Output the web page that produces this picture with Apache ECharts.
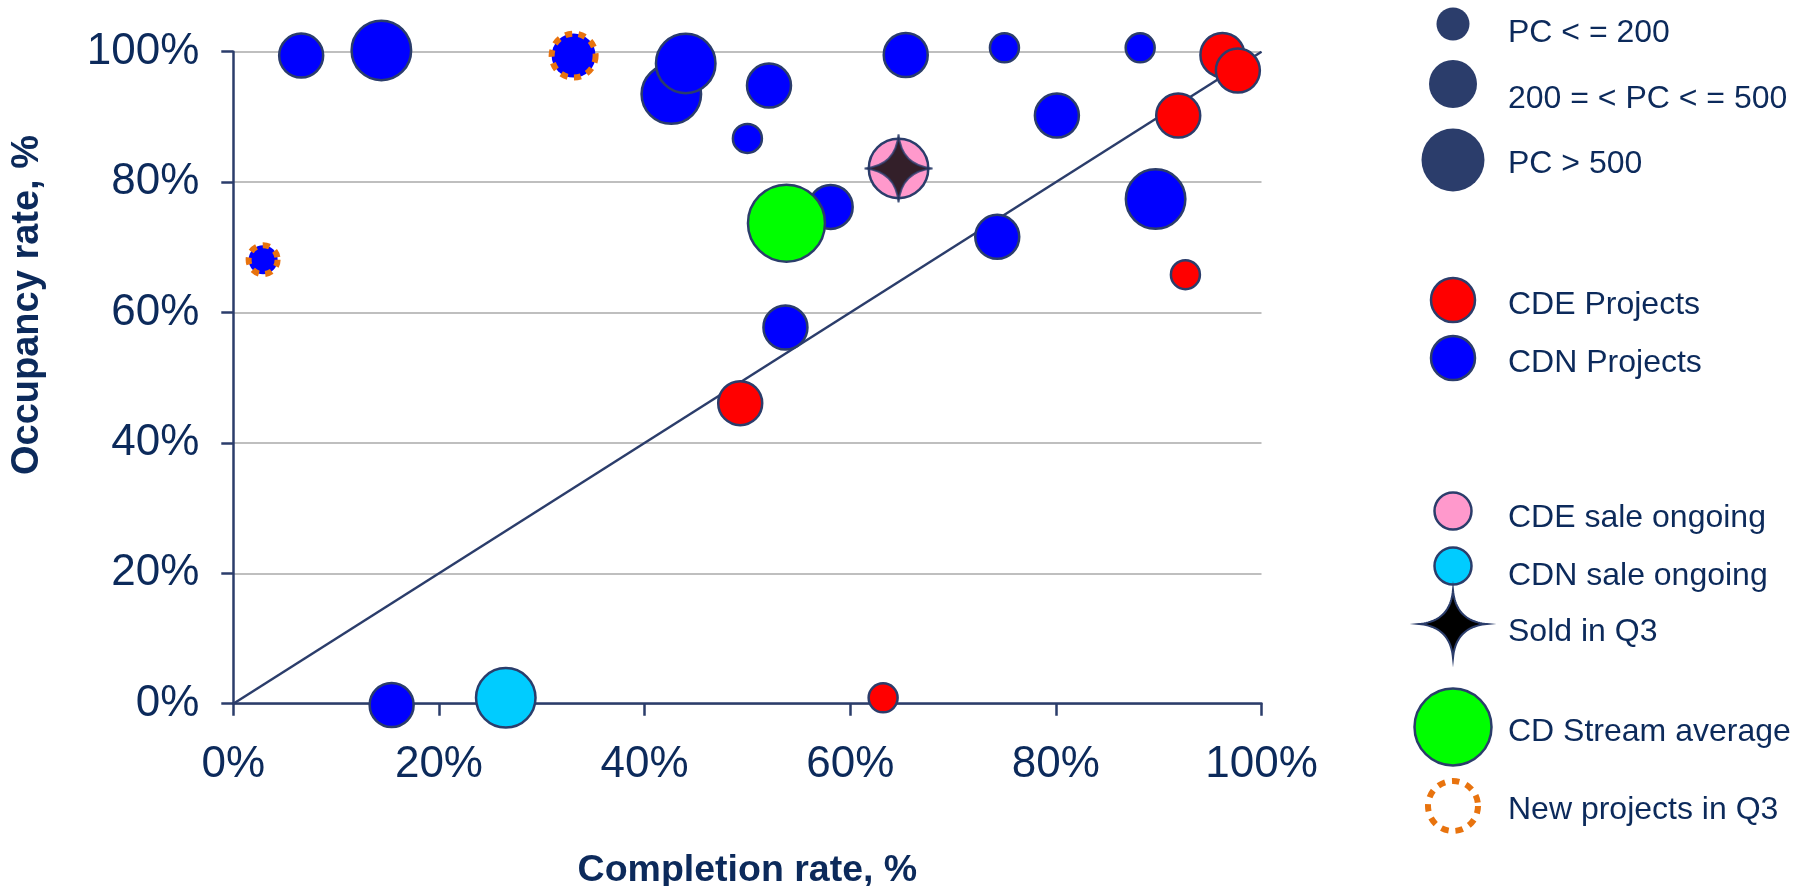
<!DOCTYPE html>
<html>
<head>
<meta charset="utf-8">
<script src="https://cdn.jsdelivr.net/npm/echarts@6/dist/echarts.min.js"></script>
<style>
html,body{margin:0;padding:0;background:#fff;}
#chart{width:1796px;height:886px;}
</style>
</head>
<body>
<div id="chart"></div>
<script>
// ---------- DATA ----------
const axisTicks = [0, 20, 40, 60, 80, 100];

// CDN projects (blue)
const cdnCompletion = [6.6, 14.4, 42.6, 44.0, 52.1, 50.0, 65.4, 58.1, 53.7, 75.0, 88.2, 80.1, 89.7, 74.3, 15.4, 2.9, 33.1];
const cdnOccupancy  = [99.4, 100.2, 93.5, 98.2, 94.8, 86.7, 99.5, 76.2, 57.7, 100.6, 100.6, 90.2, 77.4, 71.6, -0.2, 68.1, 99.4];
const cdnPcClass    = [2, 3, 3, 3, 2, 1, 2, 2, 2, 1, 1, 2, 3, 2, 2, 1, 2];   // 1: PC<=200, 2: 200-500, 3: >500
const cdnNewInQ3    = [0, 0, 0, 0, 0, 0, 0, 0, 0, 0, 0, 0, 0, 0, 0, 1, 1];

// CDE projects (red)
const cdeCompletion = [96.2, 97.7, 91.9, 92.6, 49.3, 63.2];
const cdeOccupancy  = [99.5, 97.1, 90.2, 65.8, 46.1, 0.9];
const cdePcClass    = [2, 2, 2, 1, 2, 1];

// Sale ongoing
const cdeSaleCompletion = [64.7];
const cdeSaleOccupancy  = [82.1];
const cdeSalePcClass    = [3];
const cdnSaleCompletion = [26.5];
const cdnSaleOccupancy  = [0.9];
const cdnSalePcClass    = [3];

// Sold in Q3
const soldCompletion = [64.7];
const soldOccupancy  = [82.1];

// CD Stream average
const avgCompletion = [53.8];
const avgOccupancy  = [73.7];

// Diagonal reference (completion = occupancy)
const diagonalCompletion = [0, 100];
const diagonalOccupancy  = [0, 100];

// Legend labels
const legendSizeLabels  = ['PC < = 200', '200 = < PC < = 500', 'PC > 500'];
const legendTypeLabels  = ['CDE Projects', 'CDN Projects'];
const legendSaleLabels  = ['CDE sale ongoing', 'CDN sale ongoing', 'Sold in Q3'];
const legendOtherLabels = ['CD Stream average', 'New projects in Q3'];

const xAxisTitle = 'Completion rate, %';
const yAxisTitle = 'Occupancy rate, %';

// ---------- STYLE ----------
const FONT = '"Liberation Sans", Arial, sans-serif';
const TEXT = '#0c2a5b';
const NAVY = '#2b3d6b';
const ORANGE = '#e8730e';
const C_RED = '#ff0000', C_BLUE = '#0000ff', C_PINK = '#ff99cc', C_CYAN = '#00ccff', C_GREEN = '#00ff00';
const SIZE = {1: 29, 2: 44, 3: 59.5};
const AVG_SIZE = 77;
const STAR_PATH = 'M50,0 Q54,46 100,50 Q54,54 50,100 Q46,54 0,50 Q46,46 50,0 Z';
const STAR = 'path://' + STAR_PATH;

function bubbles(xs, ys, pcs, flags) {
  return xs.map((x, i) => {
    const d = {value: [x, ys[i]], symbolSize: SIZE[pcs[i]]};
    if (flags && flags[i]) {
      d.itemStyle = {borderColor: ORANGE, borderWidth: 6, borderType: [7, 6.5]};
    }
    return d;
  });
}

const baseItem = (color) => ({color: color, borderColor: NAVY, borderWidth: 2.5, opacity: 1});

// star outline as polygon (quadratic curves sampled) for the legend
function starPoints(cx, cy, size) {
  const ctrl = [[54,46],[54,54],[46,54],[46,46]];
  const pts = [[50,0],[100,50],[50,100],[0,50]];
  const out = [];
  for (let k = 0; k < 4; k++) {
    const p0 = pts[k], p1 = ctrl[k], p2 = pts[(k + 1) % 4];
    for (let t = 0; t < 1; t += 0.04) {
      const a = (1 - t) * (1 - t), b = 2 * (1 - t) * t, c = t * t;
      const px = a * p0[0] + b * p1[0] + c * p2[0];
      const py = a * p0[1] + b * p1[1] + c * p2[1];
      out.push([cx - size / 2 + px * size / 100, cy - size / 2 + py * size / 100]);
    }
  }
  return out;
}

// ---------- LEGEND (graphic) ----------
const LX = 1453, TX = 1508;
const legendGraphics = [];
function legText(label, y) {
  legendGraphics.push({type: 'text', x: TX, y: y, style: {text: label, font: '32px ' + FONT, fill: TEXT, textAlign: 'left', textVerticalAlign: 'middle'}});
}
function legCircle(cy, d, fill, stroke, lw, dash) {
  const st = {fill: fill || 'none', lineWidth: lw || 0};
  if (stroke) st.stroke = stroke;
  if (dash) st.lineDash = dash;
  legendGraphics.push({type: 'circle', shape: {cx: LX, cy: cy, r: d / 2}, style: st});
}
// size legend
const sizeLegendY = [24, 84, 160], sizeLegendD = [33, 48, 63], sizeTextY = [33, 99, 164];
legendSizeLabels.forEach((l, i) => { legCircle(sizeLegendY[i], sizeLegendD[i], NAVY, null, 0); legText(l, sizeTextY[i]); });
// type legend
legCircle(300, 44, C_RED, NAVY, 2.5); legText(legendTypeLabels[0], 305);
legCircle(358, 44, C_BLUE, NAVY, 2.5); legText(legendTypeLabels[1], 363);
// sale legend
legCircle(511, 37, C_PINK, NAVY, 2.5); legText(legendSaleLabels[0], 518);
legCircle(566, 37, C_CYAN, NAVY, 2.5); legText(legendSaleLabels[1], 576);
legendGraphics.push({type: 'polygon', shape: {points: starPoints(LX, 624, 68)},
  style: {fill: '#000000', stroke: NAVY, lineWidth: 2}});
legText(legendSaleLabels[2], 632);
// other
legCircle(727, 77, C_GREEN, NAVY, 2.5); legText(legendOtherLabels[0], 732);
legCircle(806, 50, null, ORANGE, 6, [7.5, 7]); legText(legendOtherLabels[1], 810);

// y axis title
legendGraphics.push({type: 'text', x: 28, y: 305, rotation: Math.PI / 2,
  style: {text: yAxisTitle, font: 'bold 38px ' + FONT, fill: TEXT, textAlign: 'center', textVerticalAlign: 'middle'}});

// ---------- CHART ----------
const chart = echarts.init(document.getElementById('chart'), null, {renderer: 'canvas'});
const pctAxis = (isX) => ({
  type: 'value', min: axisTicks[0], max: axisTicks[axisTicks.length - 1], interval: axisTicks[1] - axisTicks[0],
  axisLine: {show: true, onZero: false, lineStyle: {color: NAVY, width: 2.5}},
  axisTick: {show: true, inside: false, length: 12, lineStyle: {color: NAVY, width: 2.5}},
  axisLabel: {formatter: '{value}%', color: TEXT, fontFamily: FONT, fontSize: 44, margin: isX ? 39 : 34},
  splitLine: {show: !isX, lineStyle: {color: '#bfbfbf', width: 2}}
});

const option = {
  animation: false,
  backgroundColor: '#ffffff',
  grid: {left: 233.3, right: 534.5, top: 51.7, bottom: 182.3, containLabel: false, outerBoundsMode: 'none'},
  xAxis: Object.assign(pctAxis(true), {
    name: xAxisTitle, nameLocation: 'middle', nameGap: 148,
    nameTextStyle: {color: TEXT, fontFamily: FONT, fontSize: 37.5, fontWeight: 'bold'}
  }),
  yAxis: pctAxis(false),
  graphic: legendGraphics,
  series: [
    {name: 'Diagonal', type: 'line', z: 1, symbol: 'none', silent: true,
     data: diagonalCompletion.map((x, i) => [x, diagonalOccupancy[i]]),
     lineStyle: {color: NAVY, width: 2.5}},
    {name: 'CDN Projects', type: 'scatter', z: 2, clip: false,
     data: bubbles(cdnCompletion, cdnOccupancy, cdnPcClass, cdnNewInQ3), itemStyle: baseItem(C_BLUE)},
    {name: 'CDE Projects', type: 'scatter', z: 3, clip: false,
     data: bubbles(cdeCompletion, cdeOccupancy, cdePcClass), itemStyle: baseItem(C_RED)},
    {name: 'CDE sale ongoing', type: 'scatter', z: 4, clip: false,
     data: bubbles(cdeSaleCompletion, cdeSaleOccupancy, cdeSalePcClass), itemStyle: baseItem(C_PINK)},
    {name: 'CDN sale ongoing', type: 'scatter', z: 4, clip: false,
     data: bubbles(cdnSaleCompletion, cdnSaleOccupancy, cdnSalePcClass), itemStyle: baseItem(C_CYAN)},
    {name: 'CD Stream average', type: 'scatter', z: 5, clip: false, symbolSize: AVG_SIZE,
     data: avgCompletion.map((x, i) => [x, avgOccupancy[i]]), itemStyle: baseItem(C_GREEN)},
    {name: 'Sold in Q3', type: 'scatter', z: 6, clip: false, symbol: STAR, symbolSize: 68,
     data: soldCompletion.map((x, i) => [x, soldOccupancy[i]]),
     itemStyle: {color: '#000000', borderColor: NAVY, borderWidth: 2}}
  ]
};
chart.setOption(option);
</script>
</body>
</html>
